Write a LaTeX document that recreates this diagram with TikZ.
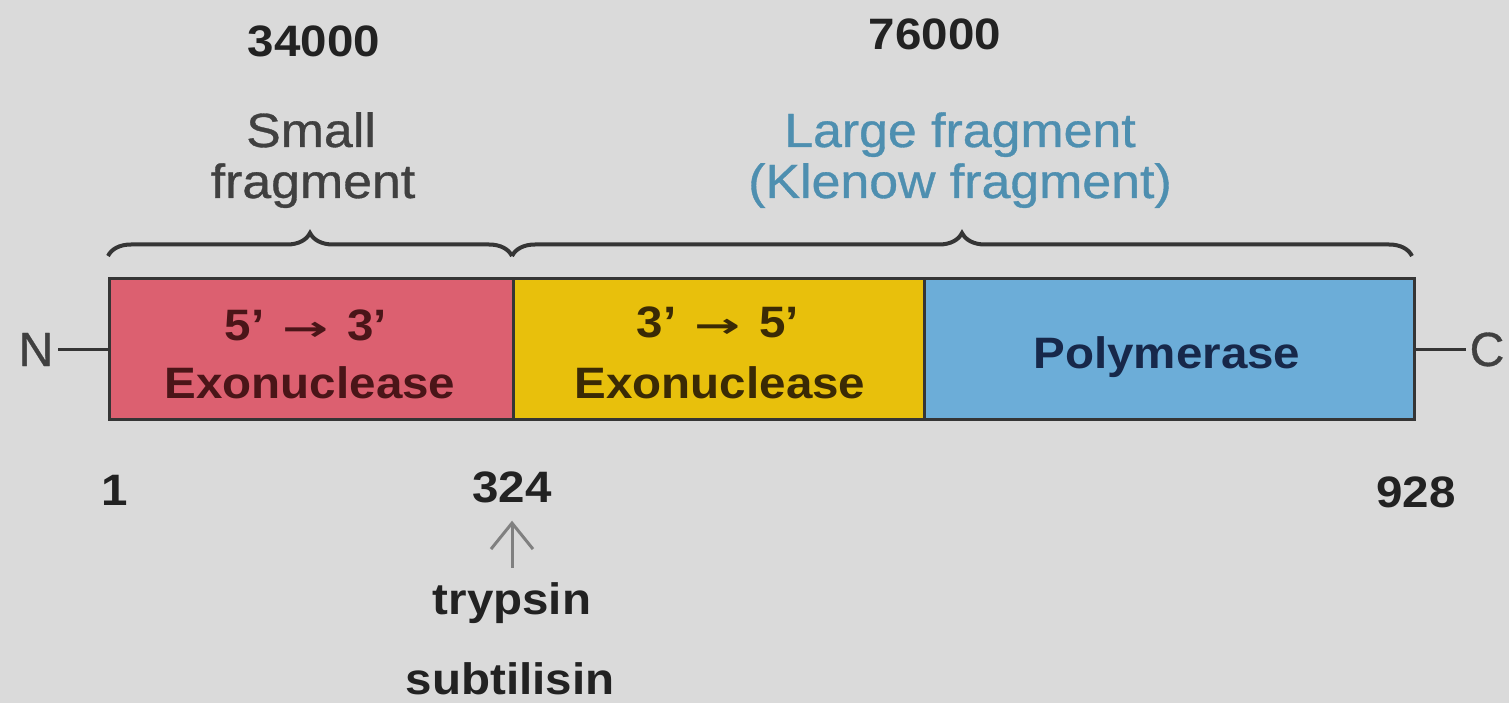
\documentclass[tikz,border=0pt]{standalone}
\usepackage{fontspec}
\setmainfont{Liberation Sans}
\newfontfamily\arrowfont{DejaVu Sans}
% a slightly heavier cut of the regular face for the fragment labels
\newfontfamily\labelfont[BoldFont={Liberation Sans},BoldFeatures={FakeBold=0.7}]{Liberation Sans}
\usetikzlibrary{decorations.pathreplacing,arrows.meta}

\definecolor{bg}{HTML}{DADADA}
\definecolor{exored}{HTML}{DC6070}
\definecolor{exoyellow}{HTML}{E8C00C}
\definecolor{polblue}{HTML}{6CADD8}
\definecolor{edge}{HTML}{353535}
\definecolor{redtxt}{HTML}{4A1518}
\definecolor{yeltxt}{HTML}{3A2A05}
\definecolor{bluetxt}{HTML}{17284A}
\definecolor{klenow}{HTML}{4E8FB0}
\definecolor{ink}{HTML}{222222}
\definecolor{soft}{HTML}{404040}

% slightly widened lettering
\newcommand{\wideB}[1]{\scalebox{1.08}[1]{#1}}
\newcommand{\wideR}[1]{\scalebox{1.08}[1]{#1}}
\newcommand{\toarrow}{{\arrowfont\fontsize{34}{40}\selectfont\enspace\scalebox{1.5}[1]{→}\enspace}}

\begin{document}
\begin{tikzpicture}[x=1pt,y=-1pt,
  boldtxt/.style={inner sep=0pt, anchor=base, font=\fontsize{44}{52}\selectfont\bfseries},
  regtxt/.style={inner sep=0pt, anchor=base, font=\fontsize{48}{56}\selectfont\labelfont\bfseries},
  domainbox/.style={draw=edge, line width=3pt, inner sep=0pt, anchor=north west,
    minimum height=141pt},
  bracket/.style={draw=edge, line width=4pt, decorate,
    decoration={brace, amplitude=23pt}},
  cut/.style={draw=gray, line width=3pt,
    -{Straight Barb[length=26pt, width=42pt]}},
  tail/.style={draw=edge, line width=3pt}
]
% backdrop
\fill[bg] (0,0) rectangle (1509,703);

% domains of the polypeptide
\node[domainbox, fill=exored, minimum width=404pt] (exo53) at (108,277) {};
\node[domainbox, fill=exoyellow, minimum width=411pt] (exo35) at (512,277) {};
\node[domainbox, fill=polblue, minimum width=490pt] (pol) at (923,277) {};

\node[boldtxt, text=redtxt] (exo53a) at (306,340) {\wideB{5'\toarrow3'}};
\node[boldtxt, text=redtxt] (exo53b) at (310,398) {\wideB{Exonuclease}};
\node[boldtxt, text=yeltxt] (exo35a) at (718,337) {\wideB{3'\toarrow5'}};
\node[boldtxt, text=yeltxt] (exo35b) at (720,398) {\wideB{Exonuclease}};
\node[boldtxt, text=bluetxt] (polt) at (1167,368) {\wideB{Polymerase}};

% termini
\node[regtxt, text=soft] (N) at (36,366) {N};
\node[regtxt, text=soft] (C) at (1487,366) {C};
\draw[tail] (exo53.west) -- ++(-50,0) coordinate (nend);
\draw[tail] (pol.east) -- ++(50,0) coordinate (cend);

% fragment braces
\draw[bracket] (108,256) -- (512,256);
\draw[bracket] (512,256) -- (1412,256);

% fragment labels
\node[boldtxt, text=ink] (mw1) at (314,57) {\wideB{34000}};
\node[boldtxt, text=ink] (mw2) at (935,50) {\wideB{76000}};
\node[regtxt, text=soft] (sf1) at (311,147) {\wideR{Small}};
\node[regtxt, text=soft] (sf2) at (313,198) {\wideR{fragment}};
\node[regtxt, text=klenow] (lf1) at (960,147) {\wideR{Large fragment}};
\node[regtxt, text=klenow] (lf2) at (960,198) {\wideR{(Klenow fragment)}};

% residue numbers
\node[boldtxt, text=ink] (r1) at (115,505) {\wideB{1}};
\node[boldtxt, text=ink] (r324) at (512,502) {\wideB{324}};
\node[boldtxt, text=ink] (r928) at (1416,507) {\wideB{928}};

% protease cleavage site
\node[boldtxt, text=ink] (tryp) at (512,614) {\wideB{trypsin}};
\node[boldtxt, text=ink] (subt) at (510,694) {\wideB{subtilisin}};
\draw[cut, shorten <=14pt, shorten >=18pt] (tryp.north) -- (tryp.north |- r324.south);
\end{tikzpicture}
\end{document}
